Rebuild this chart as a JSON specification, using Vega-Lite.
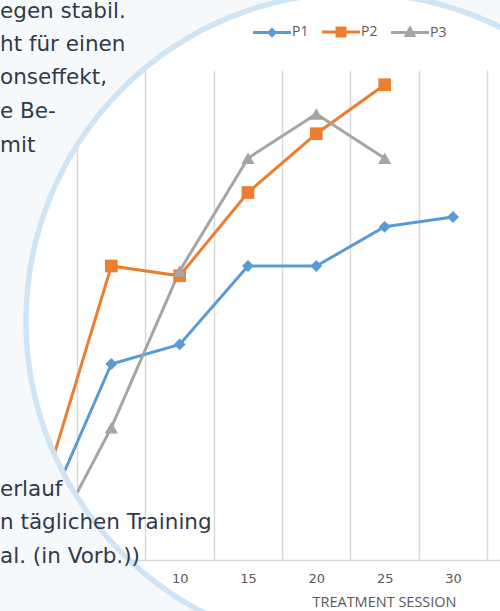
{
  "$schema": "https://vega.github.io/schema/vega-lite/v6.json",
  "width": 500,
  "height": 490,
  "autosize": {"type": "none"},
  "padding": {"left": 0, "top": 70, "right": 0, "bottom": 51},
  "background": "#ffffff",
  "config": {"view": {"stroke": null}},
  "datasets": {
    "scores": [
      {"participant": "P1", "session": 0, "score": 8},
      {"participant": "P1", "session": 5, "score": 40},
      {"participant": "P1", "session": 10, "score": 44},
      {"participant": "P1", "session": 15, "score": 60},
      {"participant": "P1", "session": 20, "score": 60},
      {"participant": "P1", "session": 25, "score": 68},
      {"participant": "P1", "session": 30, "score": 70},
      {"participant": "P2", "session": 0, "score": 14},
      {"participant": "P2", "session": 5, "score": 60},
      {"participant": "P2", "session": 10, "score": 58},
      {"participant": "P2", "session": 15, "score": 75},
      {"participant": "P2", "session": 20, "score": 87},
      {"participant": "P2", "session": 25, "score": 97},
      {"participant": "P3", "session": 0, "score": 0.5},
      {"participant": "P3", "session": 5, "score": 27},
      {"participant": "P3", "session": 10, "score": 59},
      {"participant": "P3", "session": 15, "score": 82},
      {"participant": "P3", "session": 20, "score": 91},
      {"participant": "P3", "session": 25, "score": 82}
    ],
    "pagetext": [
      {"t": "egen stabil.", "ty": 111.8},
      {"t": "ht für einen", "ty": 105.1},
      {"t": "onseffekt,", "ty": 98.4},
      {"t": "e Be-", "ty": 91.4},
      {"t": "\u00a0\u00a0mit", "ty": 84.5},
      {"t": "erlauf", "ty": 14.3},
      {"t": "n täglichen Training", "ty": 7.55},
      {"t": "al. (in Vorb.))", "ty": 0.6}
    ]
  },
  "layer": [
    {
      "data": {"name": "scores"},
      "mark": {"type": "line", "strokeWidth": 3},
      "encoding": {
        "x": {
          "field": "session", "type": "quantitative",
          "scale": {"domain": [-3.146, 33.44], "nice": false, "zero": false},
          "axis": {
            "values": [2.5, 7.5, 12.5, 17.5, 22.5, 27.5, 32.5],
            "grid": true, "gridColor": "#d9d9d9", "gridWidth": 1.5,
            "domainColor": "#d9d9d9", "domainWidth": 1.5,
            "ticks": false, "tickSize": 0,
            "labelOffset": 34.2, "labelFlush": false, "labelOverlap": false,
            "labelExpr": "datum.value < 30 ? format(datum.value + 2.5, 'd') : ''",
            "labelFont": "DejaVu Sans", "labelFontSize": 13, "labelColor": "#595959", "labelPadding": 12,
            "title": "TREATMENT SESSION", "titleFont": "Open Sans", "titleFontSize": 14.5,
            "titleFontWeight": "normal", "titleColor": "#595959",
            "titleX": 384, "titleY": 35, "titleAlign": "center", "titleBaseline": "top"
          }
        },
        "y": {
          "field": "score", "type": "quantitative",
          "scale": {"domain": [0, 100], "nice": false},
          "axis": null
        },
        "color": {
          "field": "participant", "type": "nominal",
          "scale": {"domain": ["P1", "P2", "P3"], "range": ["#5b9bd5", "#ed7d31", "#a5a5a5"]},
          "legend": {
            "orient": "none", "legendX": 261, "legendY": -49, "direction": "horizontal", "title": null,
            "labelFont": "Open Sans", "labelFontSize": 14, "labelColor": "#595959",
            "symbolSize": 361, "labelOffset": 9, "columnPadding": 7,
            "encode": {
              "symbols": {
                "update": {
                  "shape": {"signal": "datum.value === 'P1' ? 'M-2,0H2M0,-0.32L0.3,0L0,0.32L-0.3,0Z' : datum.value === 'P2' ? 'M-2,0H2M-0.42,-0.42H0.42V0.42H-0.42Z' : 'M-2,0H2M0,-0.45L0.4,0.3H-0.4Z'"},
                  "fill": {"signal": "scale('color', datum.value)"},
                  "stroke": {"signal": "scale('color', datum.value)"},
                  "strokeWidth": {"value": 3},
                  "opacity": {"value": 1}
                }
              }
            }
          }
        }
      }
    },
    {
      "data": {"name": "scores"},
      "transform": [{"filter": "datum.participant === 'P1'"}],
      "mark": {"type": "point", "shape": "diamond", "filled": true, "opacity": 1, "size": 140},
      "encoding": {
        "x": {"field": "session", "type": "quantitative"},
        "y": {"field": "score", "type": "quantitative", "axis": null},
        "color": {"field": "participant", "type": "nominal"}
      }
    },
    {
      "data": {"name": "scores"},
      "transform": [{"filter": "datum.participant === 'P2'"}],
      "mark": {"type": "point", "shape": "square", "filled": true, "opacity": 1, "size": 160},
      "encoding": {
        "x": {"field": "session", "type": "quantitative"},
        "y": {"field": "score", "type": "quantitative", "axis": null},
        "color": {"field": "participant", "type": "nominal"}
      }
    },
    {
      "data": {"name": "scores"},
      "transform": [{"filter": "datum.participant === 'P3'"}],
      "mark": {"type": "point", "shape": "triangle-up", "filled": true, "opacity": 1, "size": 175},
      "encoding": {
        "x": {"field": "session", "type": "quantitative"},
        "y": {"field": "score", "type": "quantitative", "axis": null},
        "color": {"field": "participant", "type": "nominal"}
      }
    },
    {
      "data": {"values": [{}]},
      "mark": {"type": "point", "shape": "circle", "filled": false, "stroke": "#f6f9fc", "strokeWidth": 400, "size": 1119364, "opacity": 1},
      "encoding": {
        "x": {"datum": 22.756, "type": "quantitative"},
        "y": {"datum": 48.78, "type": "quantitative", "axis": null}
      }
    },
    {
      "data": {"values": [{}]},
      "mark": {"type": "point", "shape": "circle", "filled": false, "stroke": "#cfe5f5", "strokeWidth": 5.5, "size": 430336, "opacity": 1},
      "encoding": {
        "x": {"datum": 22.756, "type": "quantitative"},
        "y": {"datum": 48.78, "type": "quantitative", "axis": null}
      }
    },
    {
      "data": {"name": "pagetext"},
      "mark": {"type": "text", "align": "left", "baseline": "middle", "font": "DejaVu Sans", "fontSize": 21.5, "color": "#2f3b48"},
      "encoding": {
        "x": {"datum": -3.146, "type": "quantitative"},
        "y": {"field": "ty", "type": "quantitative", "axis": null},
        "text": {"field": "t"}
      }
    }
  ]
}
